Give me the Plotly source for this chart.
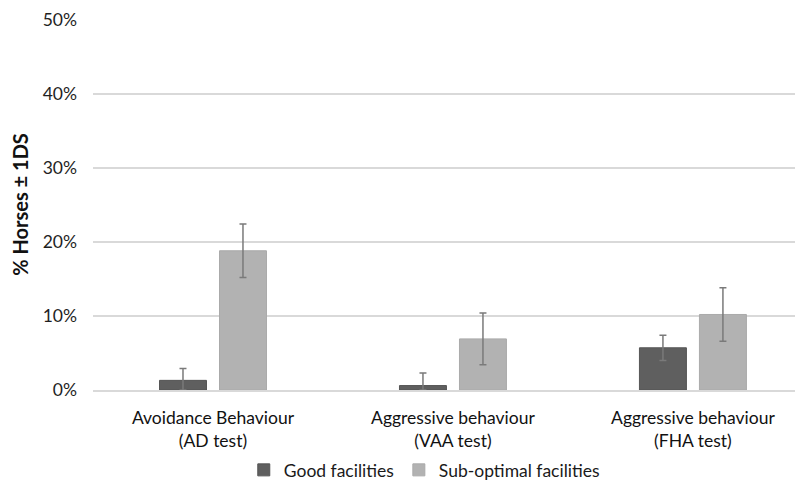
import plotly.graph_objects as go

categories = ["Avoidance Behaviour<br>(AD test)", "Aggressive behaviour<br>(VAA test)", "Aggressive behaviour<br>(FHA test)"]
good_values = [1.3, 0.6, 5.7]
good_sd = [1.6, 1.7, 1.7]
sub_values = [18.8, 6.9, 10.2]
sub_sd = [3.6, 3.5, 3.6]
y_ticks = [0, 10, 20, 30, 40, 50]
y_tick_labels = ["0%", "10%", "20%", "30%", "40%", "50%"]

font_family = "Lato, 'Open Sans', sans-serif"

fig = go.Figure()
fig.add_trace(go.Bar(
    name="Good facilities", x=categories, y=good_values,
    marker=dict(color="#5f5f5f", line=dict(color="#555555", width=1)),
    error_y=dict(type="data", array=good_sd,
                 arrayminus=[min(v, s) for v, s in zip(good_values, good_sd)],
                 color="#7a7a7a", thickness=1.5, width=3.5),
))
fig.add_trace(go.Bar(
    name="Sub-optimal facilities", x=categories, y=sub_values,
    marker=dict(color="#b2b2b2", line=dict(color="#aaaaaa", width=1)),
    error_y=dict(type="data", array=sub_sd, color="#7a7a7a", thickness=1.5, width=3.5),
))

fig.update_layout(
    width=803, height=480, autosize=False,
    margin=dict(l=85, r=0, t=11, b=98, autoexpand=False),
    plot_bgcolor="white", paper_bgcolor="white",
    barmode="group", bargap=0.5, bargroupgap=0.217,
    font=dict(family=font_family, size=17, color="#1a1a1a"),
    showlegend=True,
    legend=dict(orientation="h", x=0.21, xanchor="left", y=-0.2156, yanchor="middle",
                font=dict(size=17.5, color="#1a1a1a"), itemwidth=30,
                traceorder="normal"),
    xaxis=dict(type="category", range=[-0.5, 2.492], showgrid=False, automargin=False,
               showline=True, linecolor="#d9d9d9", linewidth=1.5,
               tickfont=dict(size=17.5, color="#111111"), ticks="", ticklabelstandoff=11),
    yaxis=dict(range=[0, 50.1], tickvals=y_ticks, ticktext=y_tick_labels, automargin=False,
               showgrid=True, gridcolor="#d9d9d9", gridwidth=1.5,
               zeroline=False, showline=False,
               tickfont=dict(size=17.5, color="#1f1f1f"), ticks="", ticklabelstandoff=15,
               title=dict(text="<b>% Horses ± 1DS</b>", font=dict(size=20, color="#111111"), standoff=10)),
)

fig.write_html("out.html")
